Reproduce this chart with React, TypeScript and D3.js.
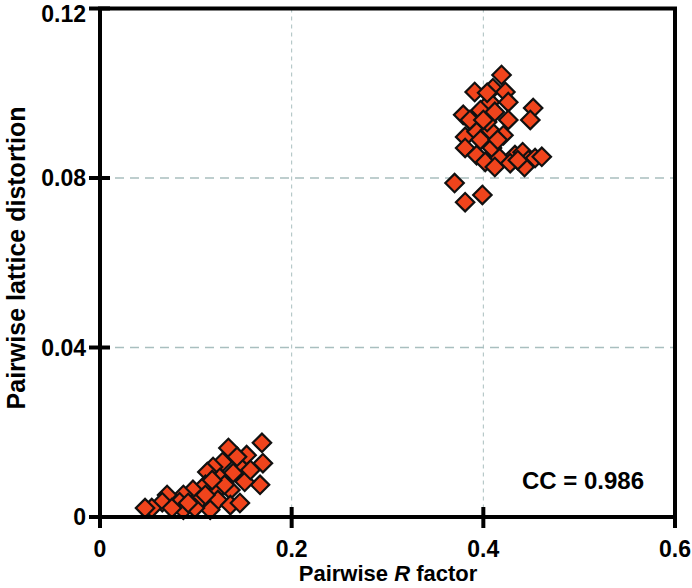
import React from "react";
import * as d3 from "d3";

const xTicks = [0, 0.2, 0.4, 0.6];
const yTicks = [0, 0.04, 0.08, 0.12];
const yTickLabels = ["0", "0.04", "0.08", "0.12"];
const xTickLabels = ["0", "0.2", "0.4", "0.6"];

const rFactorHigh = [0.419, 0.391, 0.410, 0.423, 0.452, 0.449, 0.379, 0.389, 0.407, 0.397, 0.426, 0.426, 0.381, 0.393, 0.407, 0.421, 0.381, 0.393, 0.409, 0.402, 0.417, 0.412, 0.433, 0.441, 0.447, 0.454, 0.461, 0.443, 0.370, 0.381, 0.399, 0.404, 0.397, 0.386, 0.400, 0.415, 0.404, 0.428, 0.436, 0.412];
const distortionHigh = [0.1043, 0.1003, 0.1012, 0.1003, 0.0965, 0.0937, 0.0949, 0.0930, 0.0979, 0.0960, 0.0979, 0.0937, 0.0897, 0.0909, 0.0913, 0.0901, 0.0871, 0.0854, 0.0871, 0.0838, 0.0847, 0.0826, 0.0854, 0.0861, 0.0842, 0.0847, 0.0850, 0.0826, 0.0788, 0.0743, 0.0760, 0.0932, 0.0890, 0.0937, 0.0937, 0.0890, 0.1001, 0.0835, 0.0842, 0.0956];

const rFactorLow = [0.169, 0.134, 0.153, 0.170, 0.167, 0.146, 0.128, 0.118, 0.139, 0.125, 0.112, 0.110, 0.097, 0.120, 0.136, 0.151, 0.087, 0.070, 0.083, 0.065, 0.054, 0.104, 0.123, 0.136, 0.115, 0.087, 0.099, 0.146, 0.047, 0.075, 0.092, 0.110, 0.130, 0.157, 0.143, 0.117];
const distortionLow = [0.0175, 0.0163, 0.0146, 0.0127, 0.0076, 0.0118, 0.0130, 0.0118, 0.0104, 0.0092, 0.0106, 0.0076, 0.0064, 0.0057, 0.0064, 0.0083, 0.0052, 0.0052, 0.0035, 0.0035, 0.0021, 0.0040, 0.0040, 0.0028, 0.0017, 0.0017, 0.0021, 0.0033, 0.0021, 0.0021, 0.0033, 0.0052, 0.0076, 0.0111, 0.0142, 0.0087];

const ccText = "CC = 0.986";

export default function App() {
  const W = 692, H = 588;
  const left = 100, right = 675, top = 8.5, bottom = 517;
  const x = d3.scaleLinear().domain([0, 0.6]).range([left, right]);
  const y = d3.scaleLinear().domain([0, 0.12]).range([bottom, top]);
  const sym = d3.symbol().type(d3.symbolSquare).size(170)();
  const pts = [
    ...rFactorLow.map((r, i) => [r, distortionLow[i]]),
    ...rFactorHigh.map((r, i) => [r, distortionHigh[i]]),
  ];
  const font = "Liberation Sans, Arial, sans-serif";
  return (
    <svg width={W} height={H} style={{ position: "absolute", left: 0, top: 0, background: "#fff" }} fontFamily={font}>
      {[0.2, 0.4].map((v) => (
        <line key={"gx" + v} x1={x(v)} x2={x(v)} y1={top} y2={bottom} stroke="#a9bfbf" strokeWidth={1} strokeDasharray="4,4" />
      ))}
      {[0.04, 0.08].map((v) => (
        <line key={"gy" + v} x1={left} x2={right} y1={y(v)} y2={y(v)} stroke="#a9bfbf" strokeWidth={1.5} strokeDasharray="9,6" />
      ))}
      {pts.map((p, i) => (
        <path key={i} d={sym as string} transform={`translate(${x(p[0])},${y(p[1])}) rotate(45)`} fill="#f0441c" stroke="#111" strokeWidth={2.2} />
      ))}
      <rect x={left} y={top} width={right - left} height={bottom - top} fill="none" stroke="#000" strokeWidth={4} />
      {xTicks.map((v) => (
        <line key={"tx" + v} x1={x(v)} x2={x(v)} y1={bottom - 10} y2={bottom + 11} stroke="#000" strokeWidth={4} />
      ))}
      {yTicks.map((v) => (
        <line key={"ty" + v} x1={left - 11} x2={left + 10} y1={y(v)} y2={y(v)} stroke="#000" strokeWidth={4} />
      ))}
      {xTicks.map((v, i) => (
        <text key={"lx" + v} x={x(v)} y={557} textAnchor="middle" fontSize={23} fontWeight="bold">{xTickLabels[i]}</text>
      ))}
      {yTicks.map((v, i) => (
        <text key={"ly" + v} x={86} y={Math.max(y(v) + 8, 22)} textAnchor="end" fontSize={23} fontWeight="bold">{yTickLabels[i]}</text>
      ))}
      <text x={388} y={581} textAnchor="middle" fontSize={22} fontWeight="bold">
        Pairwise <tspan fontStyle="italic">R</tspan> factor
      </text>
      <text transform="translate(25,258) rotate(-90)" textAnchor="middle" fontSize={25} fontWeight="bold">
        Pairwise lattice distortion
      </text>
      <text x={583} y={489} textAnchor="middle" fontSize={24} fontWeight="bold">{ccText}</text>
    </svg>
  );
}
